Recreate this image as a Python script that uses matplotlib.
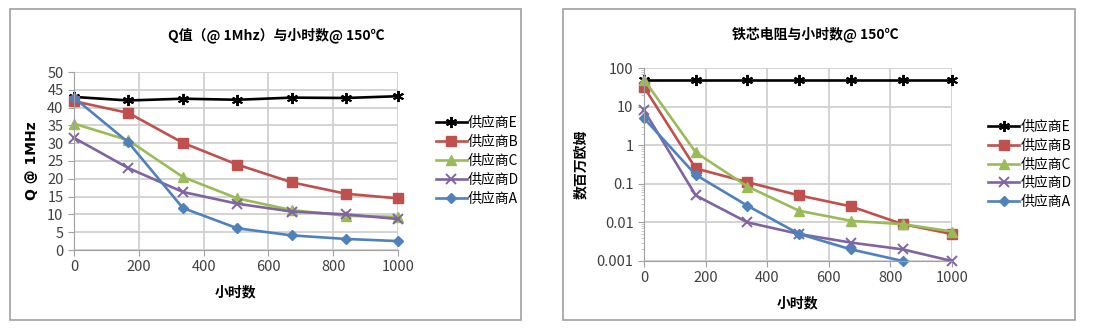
import matplotlib
matplotlib.use("Agg")
import matplotlib.pyplot as plt
from matplotlib.patches import Rectangle
from matplotlib.ticker import LogLocator, FixedFormatter, FixedLocator

plt.rcParams["font.family"] = ["Noto Sans CJK SC", "DejaVu Sans"]

hours = [0, 168, 336, 504, 672, 840, 1000]
suppliers = ["供应商E", "供应商B", "供应商C", "供应商D", "供应商A"]

# Q @ 1MHz
q_e = [43.0, 42.0, 42.5, 42.2, 42.8, 42.7, 43.2]
q_b = [41.8, 38.5, 30.1, 24.0, 19.0, 15.8, 14.5]
q_c = [35.5, 30.8, 20.5, 14.5, 11.2, 9.6, 9.3]
q_d = [31.5, 23.0, 16.3, 13.0, 10.8, 10.0, 8.7]
q_a = [42.8, 30.2, 11.8, 6.1, 4.1, 3.1, 2.5]

# core resistance, megaohm (A below the axis at 1000 h)
r_e = [50, 50, 50, 50, 50, 50, 50]
r_b = [32, 0.25, 0.11, 0.05, 0.026, 0.009, 0.005]
r_c = [50, 0.65, 0.085, 0.02, 0.011, 0.009, 0.0058]
r_d = [8, 0.05, 0.01, 0.005, 0.003, 0.002, 0.001]
r_a = [5, 0.17, 0.027, 0.005, 0.002, 0.001, float("nan")]

colors = ["#000000", "#C0504D", "#9BBB59", "#8064A2", "#4F81BD"]
markers = [(6, 2, 0), "s", "^", "x", "D"]
msizes = [8, 6.5, 7, 7.5, 5.5]
grid_c = "#d0d0d0"
tick_c = "#404040"

fig = plt.figure(figsize=(10.98, 3.29), dpi=100)

# panel borders
for x0, x1 in [(10, 521), (563, 1075)]:
    fig.patches.append(Rectangle((x0 / 1098, 1 - 320 / 329), (x1 - x0) / 1098, 311 / 329,
                                 transform=fig.transFigure, fill=False,
                                 edgecolor="#a0a0a0", linewidth=1.2))


def style_axes(ax):
    ax.grid(True, color=grid_c, linewidth=1.3)
    ax.set_axisbelow(True)
    for s in ["top", "right"]:
        ax.spines[s].set_visible(False)
    for s in ["left", "bottom"]:
        ax.spines[s].set_color("#a0a0a0")
    ax.tick_params(axis="both", colors="#a0a0a0", labelcolor=tick_c, labelsize=10.5, length=4)
    ax.set_xlim(0, 1000)
    ax.set_xticks([0, 200, 400, 600, 800, 1000])
    ax.set_xlabel("小时数", fontsize=10, fontweight="bold", labelpad=8)


def draw_lines(ax, series):
    for vals, name, c, m, ms in zip(series, suppliers, colors, markers, msizes):
        ax.plot(hours, vals, color=c, marker=m, markersize=ms, linewidth=1.9, label=name,
                clip_on=False, markeredgewidth=1.4 if m in ("x", (6, 2, 0)) else 1)


# left chart
ax1 = fig.add_axes([74 / 1098, 1 - 250 / 329, (398 - 74) / 1098, (250 - 72) / 329])
draw_lines(ax1, [q_e, q_b, q_c, q_d, q_a])
style_axes(ax1)
ax1.set_ylim(0, 50)
ax1.set_yticks(range(0, 51, 5))
ax1.set_ylabel("Q @ 1MHz", fontsize=10, fontweight="bold", family="DejaVu Sans", labelpad=6)
ax1.legend(loc="center left", bbox_to_anchor=(1.1, 0.5), frameon=False, fontsize=10,
           handlelength=2.2, handletextpad=0.1, labelspacing=0.35, borderaxespad=0)
fig.text(276 / 1098, 1 - 35 / 329, "Q值（@ 1Mhz）与小时数@ 150℃", ha="center", va="center",
         fontsize=10, fontweight="bold")

# right chart
ax2 = fig.add_axes([644 / 1098, 1 - 261 / 329, (952 - 644) / 1098, (261 - 68) / 329])
draw_lines(ax2, [r_e, r_b, r_c, r_d, r_a])
style_axes(ax2)
ax2.set_yscale("log")
ax2.set_ylim(0.001, 100)
ax2.yaxis.set_major_locator(FixedLocator([0.001, 0.01, 0.1, 1, 10, 100]))
ax2.yaxis.set_major_formatter(FixedFormatter(["0.001", "0.01", "0.1", "1", "10", "100"]))
ax2.yaxis.set_minor_locator(LogLocator(base=10, subs=range(2, 10)))
ax2.tick_params(axis="y", which="minor", colors="#c0c0c0", length=2, labelleft=False)
ax2.tick_params(axis="x", which="minor", bottom=False)
ax2.set_ylabel("数百万欧姆", fontsize=10, fontweight="bold", labelpad=6)
ax2.legend(loc="center left", bbox_to_anchor=(1.1, 0.5), frameon=False, fontsize=10,
           handlelength=2.2, handletextpad=0.1, labelspacing=0.35, borderaxespad=0)
fig.text(815 / 1098, 1 - 34 / 329, "铁芯电阻与小时数@ 150℃", ha="center", va="center",
         fontsize=10, fontweight="bold")

fig.savefig("out.png", dpi=100)
